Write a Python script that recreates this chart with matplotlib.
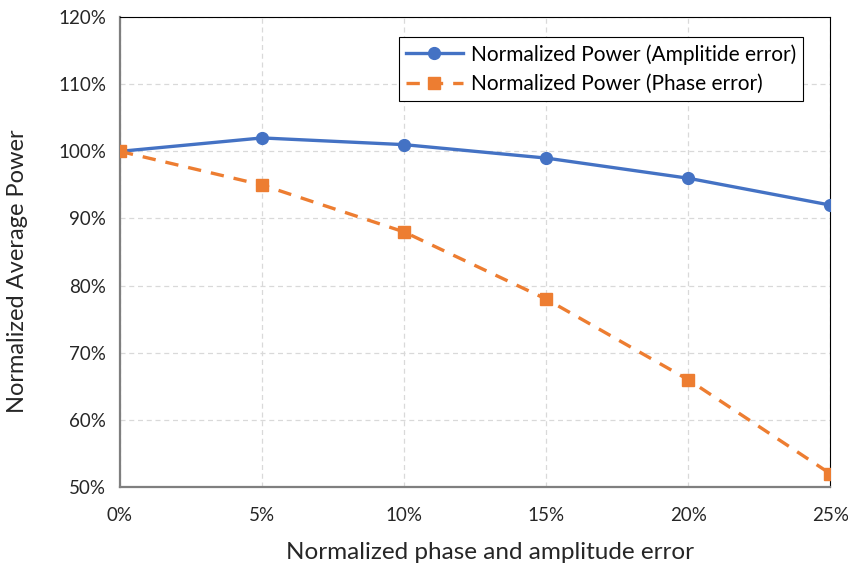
import matplotlib
matplotlib.use("Agg")
import matplotlib.pyplot as plt
from matplotlib.ticker import PercentFormatter

plt.rcParams['font.family'] = ['Lato', 'DejaVu Sans']

error = [0, 5, 10, 15, 20, 25]
amplitude = [100, 102, 101, 99, 96, 92]
phase = [100, 95, 88, 78, 66, 52]

fig = plt.figure(figsize=(8.48, 5.69), dpi=100)
ax = fig.add_axes([0.1415, 0.144, 0.8375, 0.826])

ax.plot(error, amplitude, "-o", color="#4472c4", linewidth=2.4, markersize=8.5,
        label="Normalized Power (Amplitide error)", zorder=3)
ax.plot(error, phase, "--s", color="#ed7d31", linewidth=2.4, markersize=8.5,
        dashes=(4, 3), label="Normalized Power (Phase error)", zorder=3)

ax.set_xlim(0, 25)
ax.set_ylim(50, 120)
ax.set_xticks(error)
ax.set_yticks(range(50, 121, 10))
ax.xaxis.set_major_formatter(PercentFormatter(decimals=0))
ax.yaxis.set_major_formatter(PercentFormatter(decimals=0))
ax.tick_params(length=0, labelsize=13.5, colors="#262626", pad=10)
ax.tick_params(axis="x", pad=14)

ax.grid(True, color="#d9d9d9", linestyle=(0, (4, 3)), linewidth=0.9)
ax.set_axisbelow(True)

for s in ["left", "bottom"]:
    ax.spines[s].set_color("#7f7f7f")
    ax.spines[s].set_linewidth(1.6)
for s in ["top", "right"]:
    ax.spines[s].set_color("black")
    ax.spines[s].set_linewidth(0.8)

ax.set_xlabel("Normalized phase and amplitude error", fontsize=17.5, color="#262626", va="center")
ax.set_ylabel("Normalized Average Power", fontsize=17, color="#262626", va="center")
ax.xaxis.set_label_coords(0.521, -0.14)
ax.yaxis.set_label_coords(-0.144, 0.46)

leg = ax.legend(loc="upper right", bbox_to_anchor=(0.977, 0.98), fontsize=15,
                fancybox=False, framealpha=1, edgecolor="black", borderpad=0.35,
                handlelength=2.7, handletextpad=0.4, labelspacing=0.45)
leg.get_frame().set_linewidth(0.8)

fig.savefig("out.png", dpi=100)
